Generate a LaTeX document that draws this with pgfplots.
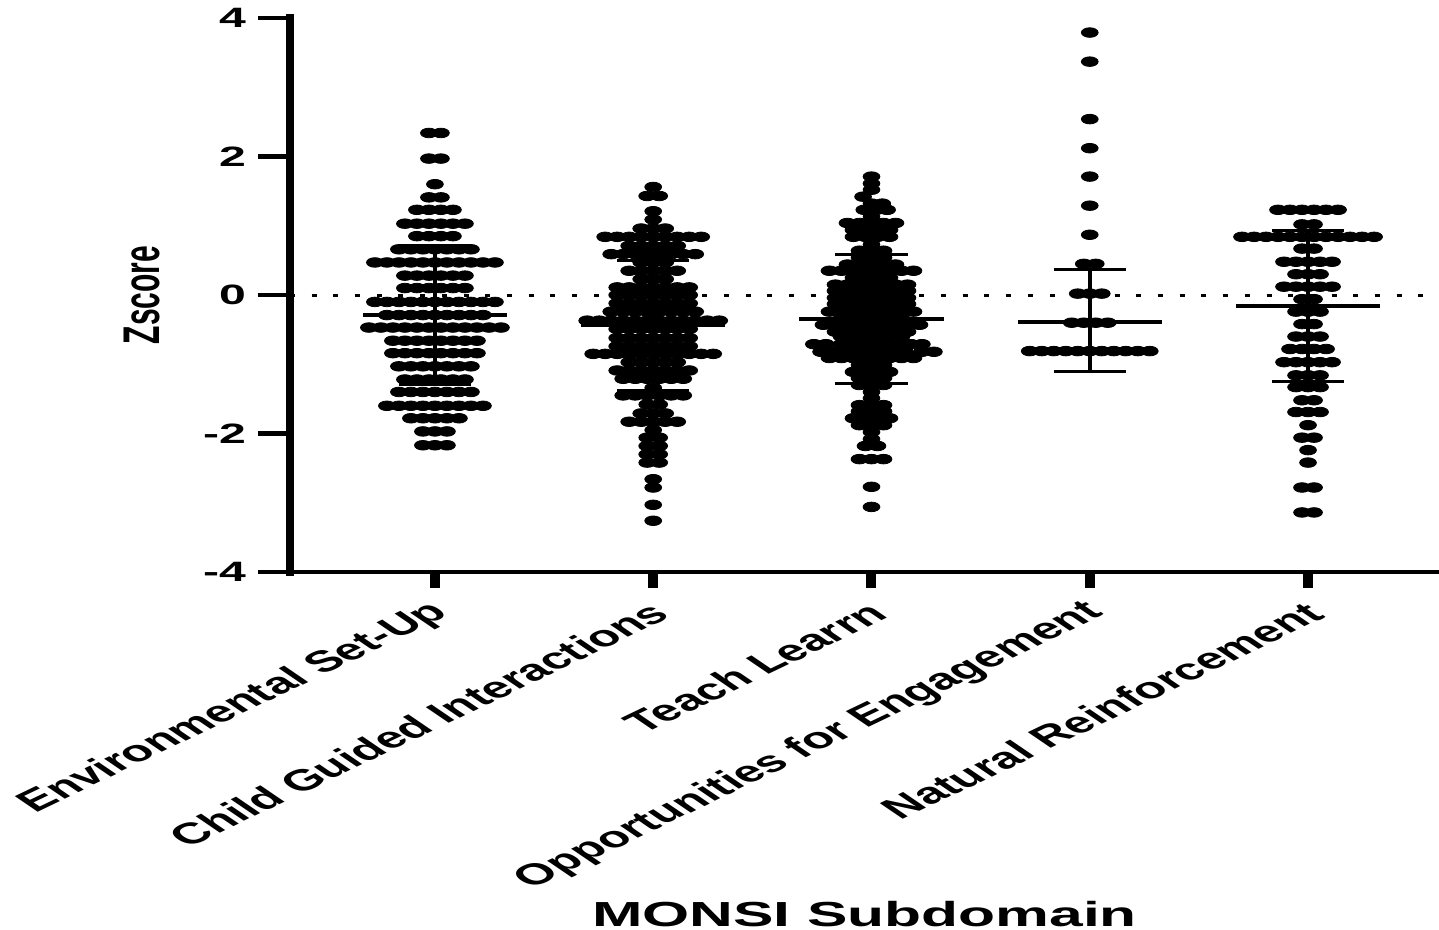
\documentclass[border=0pt]{standalone}
\usepackage{fontspec}
\setmainfont{Liberation Sans}
\usepackage{pgfplots}
\pgfplotsset{compat=1.18}
\pgfplotsset{
  dots/.style={only marks, mark=*, mark size=2.4pt,
    mark options={xscale=1.75, fill=black, draw=none}},
  sdline/.style={black, line width=2.2pt, forget plot},
  cap/.style={black, line width=1.4pt, forget plot},
  meanline/.style={black, line width=2pt, forget plot},
}

\begin{document}
\begin{tikzpicture}
\begin{axis}[
  name=ax,
  scale only axis, width=574.5pt, height=277pt,
  xmin=-0.664, xmax=4.6, ymin=-4, ymax=4,
  axis lines*=left,
  axis line style={-},
  x axis line style={line width=2.3pt},
  y axis line style={line width=4pt, line cap=rect},
  clip=false,
  xtick={0,1,2,3,4},
  xticklabels={Environmental Set-Up, Child Guided Interactions, Teach Learrn, Opportunities for Engagement, Natural Reinforcement},
  ytick={-4,-2,0,2,4},
  yticklabels={-4,-2,0,2,4},
  tick align=outside,
  major tick length=16pt,
  ytick style={black, line width=2.3pt},
  xtick style={black, line width=5pt, /pgfplots/major tick length=8pt},
  yticklabel style={font=\bfseries\fontsize{14}{16}\selectfont, xscale=1.72, anchor=east},
  xticklabel style={xshift=8pt, yshift=0pt, font=\bfseries\fontsize{14.8}{17}\selectfont, xscale=1.75, rotate=40, anchor=east},
]

% reference line at z = 0
\addplot[black, line width=1.5pt, dash pattern=on 2.5pt off 8.35pt, forget plot]
  coordinates {(-0.664,0) (4.6,0)};

% Environmental Set-Up (x = column slot, y = z score)
\addplot[dots, x filter/.expression={0+0.055*x}] coordinates {
(-.5,2.34)(.5,2.34)
(-.5,1.97)(.5,1.97)
(0,1.60)
(-.5,1.41)(.5,1.41)
(-1.5,1.23)(-.5,1.23)(.5,1.23)(1.5,1.23)
(-2.5,1.03)(-1.5,1.03)(-.5,1.03)(.5,1.03)(1.5,1.03)(2.5,1.03)
(-1.5,.85)(-.5,.85)(.5,.85)(1.5,.85)
(-3,.66)(-2,.66)(-1,.66)(0,.66)(1,.66)(2,.66)(3,.66)
(-5,.47)(-4,.47)(-3,.47)(-2,.47)(-1,.47)(0,.47)(1,.47)(2,.47)(3,.47)(4,.47)(5,.47)
(-2.5,.28)(-1.5,.28)(-.5,.28)(.5,.28)(1.5,.28)(2.5,.28)
(-2.5,.10)(-1.5,.10)(-.5,.10)(.5,.10)(1.5,.10)(2.5,.10)
(-5,-.10)(-4,-.10)(-3,-.10)(-2,-.10)(-1,-.10)(0,-.10)(1,-.10)(2,-.10)(3,-.10)(4,-.10)(5,-.10)
(-4,-.29)(-3,-.29)(-2,-.29)(-1,-.29)(0,-.29)(1,-.29)(2,-.29)(3,-.29)(4,-.29)
(-5.5,-.47)(-4.5,-.47)(-3.5,-.47)(-2.5,-.47)(-1.5,-.47)(-.5,-.47)(.5,-.47)(1.5,-.47)(2.5,-.47)(3.5,-.47)(4.5,-.47)(5.5,-.47)
(-3.5,-.66)(-2.5,-.66)(-1.5,-.66)(-.5,-.66)(.5,-.66)(1.5,-.66)(2.5,-.66)(3.5,-.66)
(-3.5,-.84)(-2.5,-.84)(-1.5,-.84)(-.5,-.84)(.5,-.84)(1.5,-.84)(2.5,-.84)(3.5,-.84)
(-3,-1.03)(-2,-1.03)(-1,-1.03)(0,-1.03)(1,-1.03)(2,-1.03)(3,-1.03)
(-2.5,-1.22)(-1.5,-1.22)(-.5,-1.22)(.5,-1.22)(1.5,-1.22)(2.5,-1.22)
(-3,-1.40)(-2,-1.40)(-1,-1.40)(0,-1.40)(1,-1.40)(2,-1.40)(3,-1.40)
(-4,-1.60)(-3,-1.60)(-2,-1.60)(-1,-1.60)(0,-1.60)(1,-1.60)(2,-1.60)(3,-1.60)(4,-1.60)
(-2,-1.78)(-1,-1.78)(0,-1.78)(1,-1.78)(2,-1.78)
(-1,-1.97)(0,-1.97)(1,-1.97)
(-1,-2.17)(0,-2.17)(1,-2.17)
};

% Child Guided Interactions
\addplot[dots, x filter/.expression={1+0.055*x}] coordinates {
(0,1.56)
(-.5,1.43)(.5,1.43)
(0,1.21)
(0,1.09)
(-1,.96)(0,.96)(1,.96)
(-4,.84)(-3,.84)(-2,.84)(-1,.84)(0,.84)(1,.84)(2,.84)(3,.84)(4,.84)
(-2,.71)(-1,.71)(0,.71)(1,.71)(2,.71)
(-3.5,.59)(-2.5,.59)(-1.5,.59)(-.5,.59)(.5,.59)(1.5,.59)(2.5,.59)(3.5,.59)
(-1,.47)(0,.47)(1,.47)
(-2,.35)(-1,.35)(0,.35)(1,.35)(2,.35)
(-1,.23)(0,.23)(1,.23)
(-3,.11)(-2,.11)(-1,.11)(0,.11)(1,.11)(2,.11)(3,.11)
(-3,0)(-2,0)(-1,0)(0,0)(1,0)(2,0)(3,0)
(-3,-.12)(-2,-.12)(-1,-.12)(0,-.12)(1,-.12)(2,-.12)(3,-.12)
(-3.5,-.24)(-2.5,-.24)(-1.5,-.24)(-.5,-.24)(.5,-.24)(1.5,-.24)(2.5,-.24)(3.5,-.24)
(-5.5,-.37)(-4.5,-.37)(-3.5,-.37)(-2.5,-.37)(-1.5,-.37)(-.5,-.37)(.5,-.37)(1.5,-.37)(2.5,-.37)(3.5,-.37)(4.5,-.37)(5.5,-.37)
(-3,-.49)(-2,-.49)(-1,-.49)(0,-.49)(1,-.49)(2,-.49)(3,-.49)
(-3,-.62)(-2,-.62)(-1,-.62)(0,-.62)(1,-.62)(2,-.62)(3,-.62)
(-3,-.74)(-2,-.74)(-1,-.74)(0,-.74)(1,-.74)(2,-.74)(3,-.74)
(-5,-.85)(-4,-.85)(-3,-.85)(-2,-.85)(-1,-.85)(0,-.85)(1,-.85)(2,-.85)(3,-.85)(4,-.85)(5,-.85)
(-2,-.97)(-1,-.97)(0,-.97)(1,-.97)(2,-.97)
(-3,-1.09)(-2,-1.09)(-1,-1.09)(0,-1.09)(1,-1.09)(2,-1.09)(3,-1.09)
(-2.5,-1.21)(-1.5,-1.21)(-.5,-1.21)(.5,-1.21)(1.5,-1.21)(2.5,-1.21)
(0,-1.34)
(-2.5,-1.45)(-1.5,-1.45)(-.5,-1.45)(.5,-1.45)(1.5,-1.45)(2.5,-1.45)
(-.5,-1.58)(.5,-1.58)
(-1,-1.71)(0,-1.71)(1,-1.71)
(-2,-1.83)(-1,-1.83)(0,-1.83)(1,-1.83)(2,-1.83)
(0,-1.95)
(-.5,-2.06)(.5,-2.06)
(-.5,-2.18)(.5,-2.18)
(-.5,-2.30)(.5,-2.30)
(-.5,-2.42)(.5,-2.42)
(0,-2.66)
(0,-2.78)
(0,-3.03)
(0,-3.26)
};

% Teach Learrn
\addplot[dots, x filter/.expression={2+0.055*x}] coordinates {
(0,1.71)
(0,1.61)
(0,1.52)
(-.7,1.42)
(0,1.32)(.9,1.32)
(-.6,1.23)(.4,1.23)(1.3,1.23)
(0,1.13)
(-2,1.04)(-1,1.04)(0,1.04)(1,1.04)(2,1.04)
(-1.5,.94)(-.5,.94)(.5,.94)(1.5,.94)
(-1.5,.84)(-.5,.84)(.5,.84)(1.5,.84)
(0,.73)
(-1,.64)(0,.64)(1,.64)
(-1,.54)(0,.54)(1,.54)
(-2,.44)(-1,.44)(0,.44)(1,.44)(2,.44)
(-3.5,.35)(-2.5,.35)(-1.5,.35)(-.5,.35)(.5,.35)(1.5,.35)(2.5,.35)(3.5,.35)
(-1.5,.25)(-.5,.25)(.5,.25)(1.5,.25)
(-3,.15)(-2,.15)(-1,.15)(0,.15)(1,.15)(2,.15)(3,.15)
(-3,.06)(-2,.06)(-1,.06)(0,.06)(1,.06)(2,.06)(3,.06)
(-3,-.04)(-2,-.04)(-1,-.04)(0,-.04)(1,-.04)(2,-.04)(3,-.04)
(-3,-.13)(-2,-.13)(-1,-.13)(0,-.13)(1,-.13)(2,-.13)(3,-.13)
(-3.5,-.24)(-2.5,-.24)(-1.5,-.24)(-.5,-.24)(.5,-.24)(1.5,-.24)(2.5,-.24)(3.5,-.24)
(-2.5,-.34)(-1.5,-.34)(-.5,-.34)(.5,-.34)(1.5,-.34)(2.5,-.34)
(-4,-.43)(-3,-.43)(-2,-.43)(-1,-.43)(0,-.43)(1,-.43)(2,-.43)(3,-.43)(4,-.43)
(-3,-.53)(-2,-.53)(-1,-.53)(0,-.53)(1,-.53)(2,-.53)(3,-.53)
(-2.5,-.60)(-1.5,-.60)(-.5,-.60)(.5,-.60)(1.5,-.60)(2.5,-.60)
(-4.8,-.71)(-3.8,-.71)(-2.5,-.71)(-1.5,-.71)(-.5,-.71)(.5,-.71)(1.5,-.71)(2.5,-.71)(3.3,-.71)(4.2,-.71)
(-4.2,-.82)(-3.2,-.82)(-2.2,-.82)(-1.2,-.82)(-.2,-.82)(.8,-.82)(1.8,-.82)(2.8,-.82)(4.2,-.82)(5.2,-.82)
(-3.5,-.91)(-2.5,-.91)(-1.5,-.91)(-.5,-.91)(.5,-.91)(1.5,-.91)(2.5,-.91)(3.5,-.91)
(-1,-1.01)(0,-1.01)(1,-1.01)
(-1.5,-1.11)(-.5,-1.11)(.5,-1.11)(1.5,-1.11)
(-1,-1.20)(0,-1.20)(1,-1.20)
(-1,-1.30)(0,-1.30)(1,-1.30)
(0,-1.40)
(0,-1.49)
(-1,-1.59)(0,-1.59)(1,-1.59)
(-1,-1.68)(0,-1.68)(1,-1.68)
(-1.5,-1.78)(-.5,-1.78)(.5,-1.78)(1.5,-1.78)
(-1,-1.88)(0,-1.88)(1,-1.88)
(0,-1.98)
(0,-2.08)
(-.5,-2.18)(.5,-2.18)
(-1,-2.37)(0,-2.37)(1,-2.37)
(0,-2.77)
(0,-3.06)
};

% Opportunities for Engagement
\addplot[dots, x filter/.expression={3+0.055*x}] coordinates {
(0,3.79)
(0,3.37)
(0,2.54)
(0,2.12)
(0,1.71)
(0,1.29)
(0,.87)
(-.5,.45)(.5,.45)
(-1,.02)(0,.02)(1,.02)
(-1.5,-.40)(-.5,-.40)(.5,-.40)(1.5,-.40)
(-5,-.81)(-4,-.81)(-3,-.81)(-2,-.81)(-1,-.81)(0,-.81)(1,-.81)(2,-.81)(3,-.81)(4,-.81)(5,-.81)
};

% Natural Reinforcement
\addplot[dots, x filter/.expression={4+0.055*x}] coordinates {
(-2.5,1.23)(-1.5,1.23)(-.5,1.23)(.5,1.23)(1.5,1.23)(2.5,1.23)
(-.5,1.02)(.5,1.02)
(-5.5,.84)(-4.5,.84)(-3.5,.84)(-2.5,.84)(-1.5,.84)(-.5,.84)(.5,.84)(1.5,.84)(2.5,.84)(3.5,.84)(4.5,.84)(5.5,.84)
(-.5,.67)(.5,.67)
(-2,.48)(-1,.48)(0,.48)(1,.48)(2,.48)
(-1,.30)(0,.30)(1,.30)
(-2,.12)(-1,.12)(0,.12)(1,.12)(2,.12)
(-.5,-.06)(.5,-.06)
(-1,-.24)(0,-.24)(1,-.24)
(-.5,-.42)(.5,-.42)
(-1,-.60)(0,-.60)(1,-.60)
(-1.5,-.78)(-.5,-.78)(.5,-.78)(1.5,-.78)
(-2,-.97)(-1,-.97)(0,-.97)(1,-.97)(2,-.97)
(-1,-1.16)(0,-1.16)(1,-1.16)
(-1,-1.33)(0,-1.33)(1,-1.33)
(-.5,-1.52)(.5,-1.52)
(-1,-1.69)(0,-1.69)(1,-1.69)
(0,-1.88)
(-.5,-2.06)(.5,-2.06)
(0,-2.24)
(0,-2.42)
(-.5,-2.78)(.5,-2.78)
(-.5,-3.14)(.5,-3.14)
};

% mean lines
\addplot[meanline] coordinates {(-0.33,-0.29) (0.33,-0.29)};
\addplot[meanline] coordinates {(0.67,-0.44) (1.33,-0.44)};
\addplot[meanline] coordinates {(1.67,-0.35) (2.33,-0.35)};
\addplot[meanline] coordinates {(2.67,-0.385) (3.33,-0.385)};
\addplot[meanline] coordinates {(3.67,-0.16) (4.33,-0.16)};

% SD bars
\addplot[sdline] coordinates {(0,-1.29) (0,0.71)};
\addplot[sdline] coordinates {(1,-1.38) (1,0.50)};
\addplot[sdline] coordinates {(2,-1.28) (2,0.58)};
\addplot[sdline] coordinates {(3,-1.11) (3,0.37)};
\addplot[sdline] coordinates {(4,-1.25) (4,0.93)};

% SD caps
\addplot[cap] coordinates {(-0.165,-1.29) (0.165,-1.29)};
\addplot[cap] coordinates {(-0.165,0.71) (0.165,0.71)};
\addplot[cap] coordinates {(0.835,-1.38) (1.165,-1.38)};
\addplot[cap] coordinates {(0.835,0.50) (1.165,0.50)};
\addplot[cap] coordinates {(1.835,-1.28) (2.165,-1.28)};
\addplot[cap] coordinates {(1.835,0.58) (2.165,0.58)};
\addplot[cap] coordinates {(2.835,-1.11) (3.165,-1.11)};
\addplot[cap] coordinates {(2.835,0.37) (3.165,0.37)};
\addplot[cap] coordinates {(3.835,-1.25) (4.165,-1.25)};
\addplot[cap] coordinates {(3.835,0.93) (4.165,0.93)};

\node[font=\bfseries\fontsize{15}{18}\selectfont, xscale=1.72, rotate=90]
  at (rel axis cs:-0.1288,0.5) {Zscore};
\end{axis}

\node[font=\bfseries\fontsize{17.4}{20}\selectfont, xscale=1.74, anchor=base]
  at ([yshift=-177pt]ax.south) {MONSI Subdomain};

\pgfresetboundingbox
\path ([shift={(-145pt,-179pt)}]ax.south west) rectangle ++(719.5pt,465pt);
\end{tikzpicture}
\end{document}
